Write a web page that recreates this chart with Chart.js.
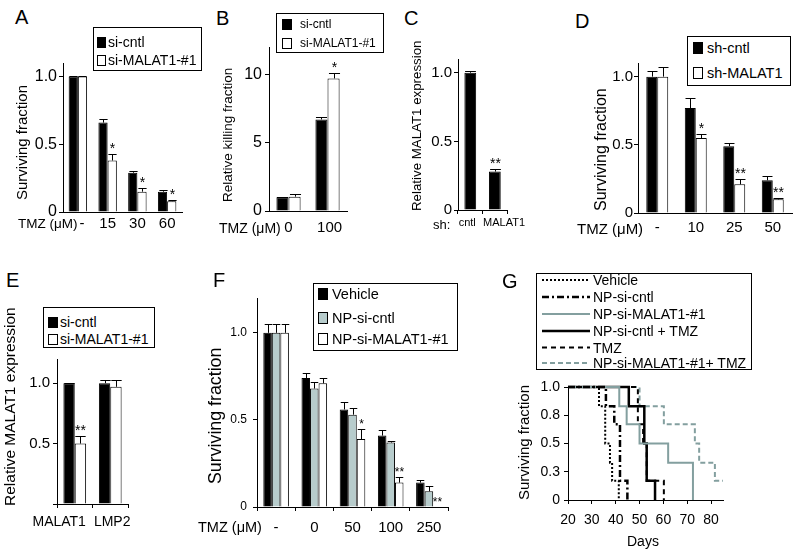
<!DOCTYPE html>
<html>
<head>
<meta charset="utf-8">
<title>MALAT1 panels</title>
<script src="https://cdn.jsdelivr.net/npm/chart.js@4.4.0/dist/chart.umd.min.js"></script>
<style>
  html, body { margin: 0; padding: 0; background: #fff; }
  body { position: relative; width: 800px; height: 555px; overflow: hidden;
         font-family: 'Liberation Sans', Arial, Helvetica, sans-serif; color: #000; }
  canvas { position: absolute; }
  .txt { position: absolute; white-space: nowrap; line-height: 1; }
  .legend { position: absolute; border: 1px solid #000; box-sizing: border-box; background: #fff; }
  .sw { position: absolute; border: 1px solid #000; box-sizing: border-box; }
</style>
</head>
<body>
<script>
// ---- data ----
// A
const aLabels = ['-', '15', '30', '60'];
const aCntl = [1.0, 0.66, 0.29, 0.15];
const aCntlErr = [0.005, 0.03, 0.015, 0.01];
const aSi = [1.0, 0.38, 0.15, 0.08];
const aSiErr = [0.005, 0.05, 0.03, 0.005];
const aStars = ['', '*', '*', '*'];
// B
const bLabels = ['0', '100'];
const bCntl = [1.0, 6.7];
const bCntlErr = [0.05, 0.2];
const bSi = [1.05, 9.7];
const bSiErr = [0.2, 0.4];
const bStars = ['', '*'];
// C
const cLabels = ['cntl', 'MALAT1'];
const cVals = [1.0, 0.28];
const cErr = [0.01, 0.02];
const cStars = ['', '**'];
// D
const dLabels = ['-', '10', '25', '50'];
const dCntl = [1.0, 0.77, 0.49, 0.24];
const dCntlErr = [0.04, 0.07, 0.02, 0.03];
const dSh = [1.0, 0.55, 0.21, 0.1];
const dShErr = [0.07, 0.03, 0.04, 0.01];
const dStars = ['', '*', '**', '**'];
// E
const eLabels = ['MALAT1', 'LMP2'];
const eCntl = [1.0, 1.0];
const eCntlErr = [0.005, 0.03];
const eSi = [0.5, 0.97];
const eSiErr = [0.06, 0.06];
const eStars = ['**', ''];
// F
const fLabels = ['-', '0', '50', '100', '250'];
const fVeh = [1.0, 0.74, 0.56, 0.41, 0.14];
const fVehErr = [0.05, 0.03, 0.04, 0.03, 0.015];
const fNpc = [1.0, 0.68, 0.53, 0.37, 0.09];
const fNpcErr = [0.05, 0.04, 0.04, 0.01, 0.03];
const fNpm = [1.0, 0.71, 0.39, 0.14, 0];
const fNpmErr = [0.05, 0.03, 0.06, 0.03, 0];
const fStars = ['', '', '*', '**', '**'];
// G (Kaplan-Meier, days / surviving fraction)
const gYTicks = ['0', '0.3', '0.5', '0.8', '1.0'];
const gVehicleDays = [20, 33, 35.6, 37.6, 38.5, 41.3];
const gVehicleSurv = [1, 0.83, 0.5, 0.33, 0.17, 0];
const gNpCntlDays = [20, 35.9, 39.4, 41.8, 44.9];
const gNpCntlSurv = [1, 0.83, 0.67, 0.17, 0];
const gNpMalatDays = [20, 41.5, 44.6, 50, 62, 72.4];
const gNpMalatSurv = [1, 0.83, 0.67, 0.5, 0.33, 0];
const gNpCntlTmzDays = [20, 45.5, 52, 53, 56.5];
const gNpCntlTmzSurv = [1, 0.83, 0.5, 0.17, 0];
const gTmzDays = [20, 49.3, 51.5, 53, 60.2];
const gTmzSurv = [1, 0.67, 0.5, 0.17, 0];
const gNpMalatTmzDays = [20, 50, 60.2, 73.2, 75, 81.6, 85];
const gNpMalatTmzSurv = [1, 0.83, 0.67, 0.5, 0.33, 0.17, 0.17];

const FONT = "'Liberation Sans', Arial, Helvetica, sans-serif";
const GREY_BAR = '#b7cccc';
const GREY_LINE = '#839f9f';
const NBSP = '\u00A0';
Chart.defaults.font.family = FONT;
Chart.defaults.color = '#000';
Chart.defaults.animation = false;

// error bars + significance stars drawn on top of each bar
const errorBars = {
    id: 'errorBars',
    afterDatasetsDraw(chart, args, opts) {
        const ctx = chart.ctx;
        const y = chart.scales.y;
        chart.data.datasets.forEach((ds, i) => {
            const meta = chart.getDatasetMeta(i);
            meta.data.forEach((bar, j) => {
                const v = ds.data[j];
                const e = ds.errors ? ds.errors[j] : 0;
                const top = Math.round(y.getPixelForValue(v + e)) + 0.5;
                const x = Math.round(bar.x) + 0.5;
                const half = bar.width / 2 - 0.5;
                ctx.save();
                ctx.strokeStyle = '#000';
                ctx.lineWidth = 1;
                if (e > 0) {
                    ctx.beginPath();
                    ctx.moveTo(x, bar.y);
                    ctx.lineTo(x, top);
                    ctx.moveTo(x - half, top);
                    ctx.lineTo(x + half, top);
                    ctx.stroke();
                }
                const s = ds.stars && ds.stars[j];
                if (s) {
                    ctx.fillStyle = '#000';
                    ctx.font = (opts.starSize || 14) + 'px ' + FONT;
                    ctx.textAlign = 'center';
                    ctx.textBaseline = 'alphabetic';
                    ctx.fillText(s, x, top - 2);
                }
                ctx.restore();
            });
        });
    }
};

function makeCanvas(left, top, w, h) {
    const cv = document.createElement('canvas');
    cv.width = w;
    cv.height = h;
    cv.style.left = left + 'px';
    cv.style.top = top + 'px';
    cv.style.width = w + 'px';
    cv.style.height = h + 'px';
    document.body.appendChild(cv);
    return cv;
}

const fmt1 = v => v === 0 ? '0' : v.toFixed(1);

function barPanel(o) {
    const yw = 44, xh = 36, pt = 14, pr = 20;
    const left = o.plot.l - yw, top = o.plot.t - pt;
    const w = o.plot.r + pr - left, h = o.plot.b + xh - top;
    const cv = makeCanvas(left, top, w, h);
    return new Chart(cv, {
        type: 'bar',
        data: {
            labels: o.labels,
            datasets: o.datasets.map(ds => Object.assign({
                borderColor: '#000',
                borderWidth: 1,
                borderSkipped: 'start',
                categoryPercentage: o.cat,
                barPercentage: 1
            }, ds))
        },
        options: {
            responsive: false,
            animation: false,
            layout: { padding: { top: pt, right: pr, left: 0, bottom: 0 } },
            plugins: {
                legend: { display: false },
                tooltip: { enabled: false },
                errorBars: { starSize: o.starSize || 14 }
            },
            scales: {
                x: {
                    border: { color: '#000', width: 1 },
                    grid: {
                        display: !!o.xTicks, drawOnChartArea: false, offset: true, color: '#000',
                        drawTicks: !!o.xTicks, tickLength: o.xTicks ? 4 : 0
                    },
                    ticks: {
                        padding: o.xPad, font: { size: o.xFont }, maxRotation: 0, autoSkip: false, color: '#000',
                        // padding spaces nudge a label off its bar group, as in the figure
                        callback: function (v, i) {
                            const lab = this.getLabelForValue(v);
                            const sh = o.xShift ? o.xShift[i] : 0;
                            return sh > 0 ? NBSP.repeat(sh) + lab : lab + NBSP.repeat(-sh);
                        }
                    },
                    afterFit: s => { s.height = xh; }
                },
                y: {
                    min: 0,
                    max: o.max,
                    border: { color: '#000', width: 1 },
                    grid: { drawOnChartArea: false, color: '#000', tickLength: 4 },
                    ticks: {
                        stepSize: o.step, includeBounds: false, padding: o.yPad,
                        font: { size: o.yFont }, color: '#000', callback: o.fmt || fmt1
                    },
                    afterFit: s => { s.width = yw; }
                }
            }
        },
        plugins: [errorBars]
    });
}

function kmPanel(o) {
    const yw = 44, xh = 40, pt = 14, pr = 14;
    const left = o.plot.l - yw, top = o.plot.t - pt;
    const w = o.plot.r + pr - left, h = o.plot.b + xh - top;
    const cv = makeCanvas(left, top, w, h);
    return new Chart(cv, {
        type: 'line',
        data: {
            datasets: o.series.map(s => ({
                label: s.label,
                data: s.days.map((d, i) => ({ x: d, y: s.surv[i] })),
                borderColor: s.color,
                borderWidth: s.width,
                borderDash: s.dash,
                borderCapStyle: 'butt',
                stepped: 'before',
                pointRadius: 0,
                fill: false,
                clip: false
            }))
        },
        options: {
            responsive: false,
            animation: false,
            layout: { padding: { top: pt, right: pr, left: 0, bottom: 0 } },
            plugins: { legend: { display: false }, tooltip: { enabled: false } },
            scales: {
                x: {
                    type: 'linear',
                    min: 20,
                    max: 85,
                    border: { color: '#000', width: 1 },
                    grid: { drawOnChartArea: false, color: '#000', tickLength: 4 },
                    ticks: { stepSize: 10, includeBounds: false, padding: 8, font: { size: 14 }, color: '#000' },
                    afterFit: s => { s.height = xh; }
                },
                y: {
                    min: 0,
                    max: 1,
                    border: { color: '#000', width: 1 },
                    grid: { drawOnChartArea: false, color: '#000', tickLength: 4 },
                    ticks: {
                        stepSize: 0.25, includeBounds: false, padding: 4, font: { size: 14 }, color: '#000',
                        callback: (v, i) => gYTicks[i]
                    },
                    afterFit: s => { s.width = yw; }
                }
            }
        }
    });
}

// ---- html text helpers (snapped to whole pixels so the text stays crisp) ----
function addText(str, cx, cy, size, rot) {
    const d = document.createElement('div');
    d.className = 'txt';
    d.textContent = str;
    d.style.fontSize = size + 'px';
    document.body.appendChild(d);
    const w = d.offsetWidth, h = d.offsetHeight;
    if (rot) {
        d.style.transformOrigin = '0 0';
        d.style.transform = 'rotate(-90deg)';
        d.style.left = Math.round(cx - h / 2) + 'px';
        d.style.top = Math.round(cy + w / 2) + 'px';
    } else {
        d.style.left = Math.round(cx - w / 2) + 'px';
        d.style.top = Math.round(cy - h / 2) + 'px';
    }
}
function addLabel(str, x, cy, size) {
    const d = document.createElement('div');
    d.className = 'txt';
    d.textContent = str;
    d.style.fontSize = size + 'px';
    document.body.appendChild(d);
    d.style.left = Math.round(x) + 'px';
    d.style.top = Math.round(cy - d.offsetHeight / 2) + 'px';
}
function legendBox(l, t, r, b) {
    const d = document.createElement('div');
    d.className = 'legend';
    d.style.cssText = `left:${l}px;top:${t}px;width:${r - l}px;height:${b - t}px`;
    document.body.appendChild(d);
}
function swatch(fill, x, cy, w, h) {
    const d = document.createElement('div');
    d.className = 'sw';
    d.style.cssText = `left:${x}px;top:${Math.round(cy - h / 2)}px;width:${w}px;height:${h}px;background:${fill}`;
    document.body.appendChild(d);
}

// ---- panels ----
// A
barPanel({
    plot: { l: 63, t: 63, r: 182, b: 212 }, labels: aLabels, max: 1.1, step: 0.5, cat: 0.62,
    xFont: 15, yFont: 16, xPad: 3, yPad: 2, xShift: [2, 0, 0, 0],
    datasets: [
        { label: 'si-cntl', data: aCntl, errors: aCntlErr, backgroundColor: '#000' },
        { label: 'si-MALAT1-#1', data: aSi, errors: aSiErr, stars: aStars, backgroundColor: '#fff' }
    ]
});
// B
barPanel({
    plot: { l: 269, t: 47, r: 347, b: 211 }, labels: bLabels, max: 12, step: 5, cat: 0.62,
    xFont: 15, yFont: 16, xPad: 8, yPad: 3, fmt: v => String(v), xShift: [0, 1],
    datasets: [
        { label: 'si-cntl', data: bCntl, errors: bCntlErr, backgroundColor: '#000' },
        { label: 'si-MALAT1-#1', data: bSi, errors: bSiErr, stars: bStars, backgroundColor: '#fff' }
    ]
});
// C
barPanel({
    plot: { l: 458, t: 59, r: 512, b: 210 }, labels: cLabels, max: 1.1, step: 0.5, cat: 0.48,
    xFont: 11, yFont: 15, xPad: 2, yPad: 2, xTicks: true, xShift: [-2, 6],
    datasets: [
        { label: 'sh', data: cVals, errors: cErr, stars: cStars, backgroundColor: '#000' }
    ]
});
// D
barPanel({
    plot: { l: 638, t: 63, r: 792, b: 213 }, labels: dLabels, max: 1.1, step: 0.5, cat: 0.57,
    xFont: 15, yFont: 15, xPad: 6, yPad: 1,
    datasets: [
        { label: 'sh-cntl', data: dCntl, errors: dCntlErr, backgroundColor: '#000' },
        { label: 'sh-MALAT1', data: dSh, errors: dShErr, stars: dStars, backgroundColor: '#fff' }
    ]
});
// E
barPanel({
    plot: { l: 57, t: 359, r: 128, b: 504 }, labels: eLabels, max: 1.2, step: 0.5, cat: 0.64,
    xFont: 14, yFont: 15, xPad: 6, yPad: 3, xTicks: true, xShift: [-8, 1],
    fmt: v => v === 0 ? '' : v.toFixed(1),
    datasets: [
        { label: 'si-cntl', data: eCntl, errors: eCntlErr, backgroundColor: '#000' },
        { label: 'si-MALAT1-#1', data: eSi, errors: eSiErr, stars: eStars, backgroundColor: '#fff' }
    ]
});
// F
barPanel({
    plot: { l: 257, t: 298, r: 448, b: 507 }, labels: fLabels, max: 1.2, step: 0.5, cat: 0.67,
    xFont: 15, yFont: 12, xPad: 8, yPad: 6, xTicks: true, starSize: 12,
    datasets: [
        { label: 'Vehicle', data: fVeh, errors: fVehErr, backgroundColor: '#000' },
        { label: 'NP-si-cntl', data: fNpc, errors: fNpcErr, backgroundColor: GREY_BAR },
        { label: 'NP-si-MALAT1-#1', data: fNpm, errors: fNpmErr, stars: fStars, backgroundColor: '#fff' }
    ]
});
// G
const gSeries = [
    { label: 'Vehicle', days: gVehicleDays, surv: gVehicleSurv, color: '#000', width: 2, dash: [2, 2] },
    { label: 'NP-si-cntl', days: gNpCntlDays, surv: gNpCntlSurv, color: '#000', width: 2.5, dash: [7, 3, 2, 3] },
    { label: 'NP-si-MALAT1-#1', days: gNpMalatDays, surv: gNpMalatSurv, color: GREY_LINE, width: 2, dash: [] },
    { label: 'NP-si-cntl + TMZ', days: gNpCntlTmzDays, surv: gNpCntlTmzSurv, color: '#000', width: 2.5, dash: [] },
    { label: 'TMZ', days: gTmzDays, surv: gTmzSurv, color: '#000', width: 2, dash: [5, 4] },
    { label: 'NP-si-MALAT1-#1+ TMZ', days: gNpMalatTmzDays, surv: gNpMalatTmzSurv, color: GREY_LINE, width: 2, dash: [5, 3] }
];
kmPanel({ plot: { l: 568, t: 387, r: 723, b: 500 }, series: gSeries });

// ---- panel letters ----
addText('A', 21, 17, 20);
addText('B', 222, 17.5, 20);
addText('C', 411, 17.5, 20);
addText('D', 582, 20.5, 20);
addText('E', 12.5, 279.5, 20);
addText('F', 219, 280, 20);
addText('G', 510, 281, 20);

// ---- axis titles ----
addText('Surviving fraction', 21, 142, 15, true);
addText('Relative killing fraction', 227.5, 135, 13.5, true);
addText('Relative MALAT1 expression', 416, 125.5, 13.3, true);
addText('Surviving fraction', 601, 149, 16, true);
addText('Relative MALAT1 expression', 10, 406.5, 15.5, true);
addText('Surviving fraction', 216, 416, 17.8, true);
addText('Surviving fraction', 523, 442.5, 15, true);

addText('TMZ (μM)', 48, 223.5, 13.5);
addText('TMZ (μM)', 250, 227.5, 14);
addText('sh:', 441.5, 224, 13);
addText('TMZ (μM)', 610, 228.5, 15);
addText('TMZ (μM)', 229.5, 527.5, 14.5);
addText('Days', 642.5, 541, 14);

// ---- legends ----
legendBox(93, 27, 202, 71);
swatch('#000', 97, 42, 9, 11); addLabel('si-cntl', 108, 42, 14);
swatch('#fff', 97, 60, 9, 11); addLabel('si-MALAT1-#1', 108, 60, 14);

legendBox(276, 13, 384, 53);
swatch('#000', 282, 24, 10, 11); addLabel('si-cntl', 300, 24, 12);
swatch('#fff', 282, 43, 10, 11); addLabel('si-MALAT1-#1', 300, 43, 12);

legendBox(687, 36, 791, 86);
swatch('#000', 693, 48, 10, 12); addLabel('sh-cntl', 707, 48, 14.5);
swatch('#fff', 693, 73, 10, 12); addLabel('sh-MALAT1', 707, 73, 14.5);

legendBox(43, 307, 155, 348);
swatch('#000', 48, 322, 10, 11); addLabel('si-cntl', 60, 322, 14);
swatch('#fff', 48, 339, 10, 11); addLabel('si-MALAT1-#1', 60, 339, 14);

legendBox(313, 283, 458, 351);
swatch('#000', 318, 294, 10, 12); addLabel('Vehicle', 332, 294, 14.5);
swatch(GREY_BAR, 318, 318, 10, 12); addLabel('NP-si-cntl', 332, 318, 14.5);
swatch('#fff', 318, 339, 10, 12); addLabel('NP-si-MALAT1-#1', 332, 339, 14.5);

legendBox(536, 273, 752, 370);
const gRows = [280, 297, 314, 331, 347.5, 363];
const svgNS = 'http://www.w3.org/2000/svg';
const svg = document.createElementNS(svgNS, 'svg');
svg.setAttribute('width', '60');
svg.setAttribute('height', '100');
svg.style.cssText = 'position:absolute;left:537px;top:274px';
gSeries.forEach((s, i) => {
    const ln = document.createElementNS(svgNS, 'line');
    const yy = gRows[i] - 274;
    ln.setAttribute('x1', 5); ln.setAttribute('x2', 53);
    ln.setAttribute('y1', yy); ln.setAttribute('y2', yy);
    ln.setAttribute('stroke', s.color);
    ln.setAttribute('stroke-width', s.width);
    if (s.dash.length) ln.setAttribute('stroke-dasharray', s.dash.join(' '));
    svg.appendChild(ln);
    addLabel(s.label, 593, gRows[i], 14);
});
document.body.appendChild(svg);
</script>
</body>
</html>
